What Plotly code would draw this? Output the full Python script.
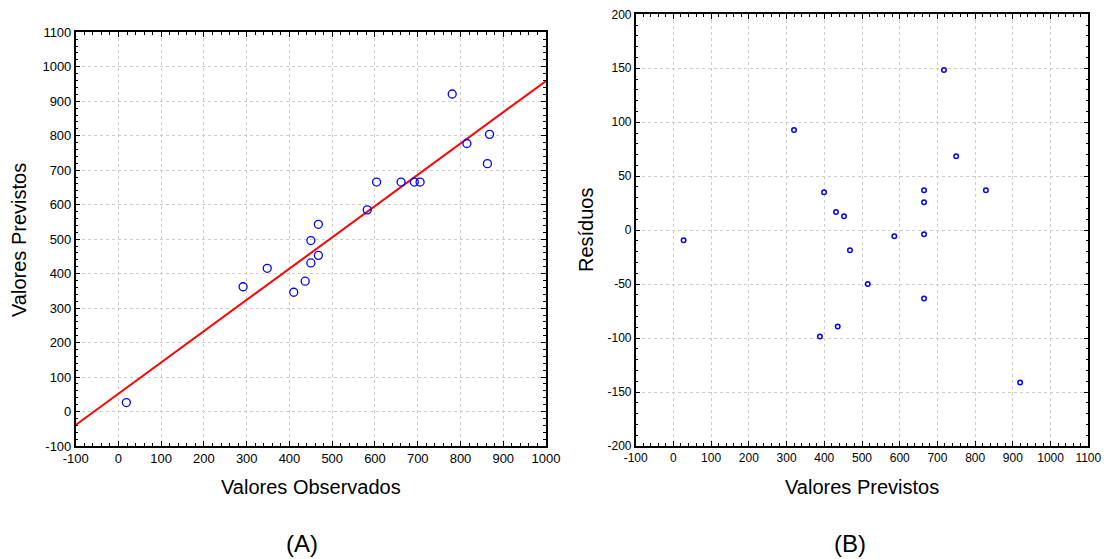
import plotly.graph_objects as go

W, H = 1107, 559

# ---- Data ----
# Panel A: observed vs predicted
obs_a = [18.5, 291.5, 348, 410, 436.7, 450, 450, 467.6, 467.6, 582, 603.7, 661, 692, 705.5, 780.6, 815, 863, 868]
pred_a = [26, 362, 415.5, 346, 378, 431, 496, 453, 543, 585, 665.6, 665.6, 665.6, 665.6, 921, 777.5, 719, 804]
line_intercept = 51.7
line_slope = 0.907
line_x_range = [-100, 1000]

# Panel B: predicted vs residuals
pred_b = [27, 319.8, 399.4, 431, 452.3, 468, 515.3, 585.7, 664.5, 664.5, 664.5, 664.5, 717.3, 749.7, 828.5, 388.3, 435.6, 919.3]
resid_b = [-9.4, 92.7, 35.1, 16.9, 12.8, -18.7, -50, -5.7, 37, 25.8, -3.9, -63.3, 148.3, 68.5, 37, -98.5, -89.3, -141.2]

# tick values / labels (hyphen minus as in the reference)
ticks_a_x = list(range(-100, 1001, 100))
ticks_a_y = list(range(-100, 1101, 100))
ticks_b_x = list(range(-100, 1101, 100))
ticks_b_y = list(range(-200, 201, 50))
labels = lambda vals: [str(v) for v in vals]

FONT = "Liberation Sans, Arial, sans-serif"

fig = go.Figure()

fig.add_trace(go.Scatter(
    x=line_x_range,
    y=[line_intercept + line_slope * v for v in line_x_range],
    mode="lines", line=dict(color="#ff0000", width=2),
    xaxis="x", yaxis="y", showlegend=False, hoverinfo="skip"))

fig.add_trace(go.Scatter(
    x=obs_a, y=pred_a, mode="markers",
    marker=dict(symbol="circle-open", size=8, color="#0000ff", line=dict(width=1.3, color="#0000ff")),
    xaxis="x", yaxis="y", showlegend=False))

fig.add_trace(go.Scatter(
    x=pred_b, y=resid_b, mode="markers",
    marker=dict(symbol="circle-open", size=4.5, color="#0000ff", line=dict(width=1.5, color="#0000ff")),
    xaxis="x2", yaxis="y2", showlegend=False))


def ax(rng, tv, minor_dtick, domain, anchor, fs):
    return dict(
        range=rng, tickmode="array", tickvals=tv, ticktext=labels(tv),
        domain=domain, anchor=anchor, automargin=False,
        ticks="inside", ticklen=5, tickwidth=1, tickcolor="#000",
        showline=True, linecolor="#000", linewidth=1.5, mirror="allticks",
        showgrid=True, gridcolor="#cccccc", griddash="dot", gridwidth=1,
        zeroline=False,
        minor=dict(ticks="inside", ticklen=3, tickwidth=1, tickcolor="#000",
                   dtick=minor_dtick, tick0=0, showgrid=False),
        tickfont=dict(family=FONT, size=fs, color="#000"),
    )


# pixel geometry
A_x = [75.7 / W, 546 / W]
A_y = [1 - 446 / H, 1 - 32.3 / H]
B_x = [635.7 / W, 1088.3 / W]
B_y = [1 - 446 / H, 1 - 14.3 / H]

fig.update_layout(
    width=W, height=H,
    margin=dict(l=0, r=0, t=0, b=0),
    paper_bgcolor="white", plot_bgcolor="white",
    xaxis=ax([-100, 1000], ticks_a_x, 20, A_x, "y", 13),
    yaxis=ax([-100, 1100], ticks_a_y, 20, A_y, "x", 13),
    xaxis2=ax([-100, 1100], ticks_b_x, 20, B_x, "y2", 12),
    yaxis2=ax([-200, 200], ticks_b_y, 10, B_y, "x2", 12),
)

def ann(text, x, y, size, angle=0):
    fig.add_annotation(text=text, x=x / W, y=1 - y / H, xref="paper", yref="paper",
                       showarrow=False, textangle=angle, xanchor="center", yanchor="middle",
                       font=dict(family=FONT, size=size, color="#000"))

ann("Valores Observados", 311, 487, 20)
ann("Valores Previstos", 19, 240, 20, -90)
ann("Valores Previstos", 862, 487, 20)
ann("Resíduos", 586, 230, 20, -90)
ann("(A)", 302, 543, 24)
ann("(B)", 850, 543, 24)

fig.write_html("out.html", config={"displayModeBar": False},
               post_script="document.body.style.margin='0';document.body.style.overflow='hidden';")
